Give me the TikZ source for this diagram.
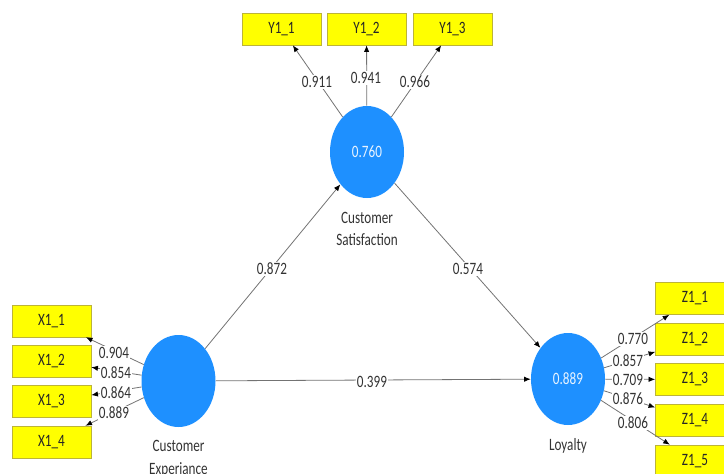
\documentclass[tikz,border=0pt]{standalone}
\usepackage{fontspec}
\setmainfont{Carlito}[FakeStretch=0.76]
\usepackage{xcolor}
\usetikzlibrary{arrows.meta,shapes.geometric,positioning}
\definecolor{lvblue}{RGB}{30,144,255}
\definecolor{mvyellow}{RGB}{255,255,0}

\begin{document}
\begin{tikzpicture}
    [x=0.75pt, y=-0.75pt, font=\fontsize{13}{17}\selectfont,
     latent/.style={ellipse,fill=lvblue,minimum width=55.5pt,minimum height=69pt,inner sep=0pt,text=white!90!lvblue},
     indicator/.style={rectangle,draw=black!30!yellow,fill=mvyellow,minimum width=59.25pt,minimum height=24pt,inner sep=0pt,text=black!85},
     link/.style={draw=black!55,line width=0.6pt,-{Latex[color=black,length=5pt,width=4pt]}},
     weight/.style={fill=white,inner sep=1pt,text=black!80}]
    \clip (0,0) rectangle (724,474);

    \node (cs) at (367,152) [latent] {0.760};
    \node (ce) at (178.5,381) [latent] {};
    \node (ly) at (568,379) [latent] {0.889};

    \node (csname) at (367,229) [align=center,text=black!80] {Customer\\Satisfaction};
    \node (cename) at (178.5,459) [align=center,text=black!80] {Customer\\Experiance};
    \node (lyname) at (568,446) [text=black!80] {Loyalty};

    \node (y1) at (281.5,29) [indicator] {Y1\_1};
    \node (y2) at (366.5,29) [indicator] {Y1\_2};
    \node (y3) at (452.5,29) [indicator] {Y1\_3};

    \node (x1) at (51.5,321) [indicator] {X1\_1};
    \node (x2) at (51.5,361) [indicator] {X1\_2};
    \node (x3) at (51.5,401.5) [indicator] {X1\_3};
    \node (x4) at (51.5,442) [indicator] {X1\_4};

    \node (z1) at (695,298.5) [indicator] {Z1\_1};
    \node (z2) at (695,339.5) [indicator] {Z1\_2};
    \node (z3) at (695,379.5) [indicator] {Z1\_3};
    \node (z4) at (695,420.5) [indicator] {Z1\_4};
    \node (z5) at (695,461) [indicator] {Z1\_5};

    \draw[link] (cs) -- (y1);
    \draw[link] (cs) -- (y2);
    \draw[link] (cs) -- (y3);

    \draw[link] (ce) -- (x1);
    \draw[link] (ce) -- (x2);
    \draw[link] (ce) -- (x3);
    \draw[link] (ce) -- (x4);

    \draw[link] (ly) -- (z1);
    \draw[link] (ly) -- (z2);
    \draw[link] (ly) -- (z3);
    \draw[link] (ly) -- (z4);
    \draw[link] (ly) -- (z5);

    \draw[link] (ce) -- (cs);
    \draw[link] (cs) -- (ly);
    \draw[link] (ce) -- (ly);

    \node (w911) at (317,82) [weight] {0.911};
    \node (w941) at (366,78) [weight] {0.941};
    \node (w966) at (415,82) [weight] {0.966};

    \node (w904) at (114,353) [weight] {0.904};
    \node (w854) at (116,373) [weight] {0.854};
    \node (w864) at (116,393) [weight] {0.864};
    \node (w889) at (114,413) [weight] {0.889};

    \node (w770) at (633,339) [weight] {0.770};
    \node (w857) at (628,361) [weight] {0.857};
    \node (w709) at (628,380) [weight] {0.709};
    \node (w876) at (628,399) [weight] {0.876};
    \node (w806) at (633,423) [weight] {0.806};

    \node (w872) at (272,269) [weight] {0.872};
    \node (w574) at (468,269) [weight] {0.574};
    \node (w399) at (372,382) [weight] {0.399};
\end{tikzpicture}
\end{document}
